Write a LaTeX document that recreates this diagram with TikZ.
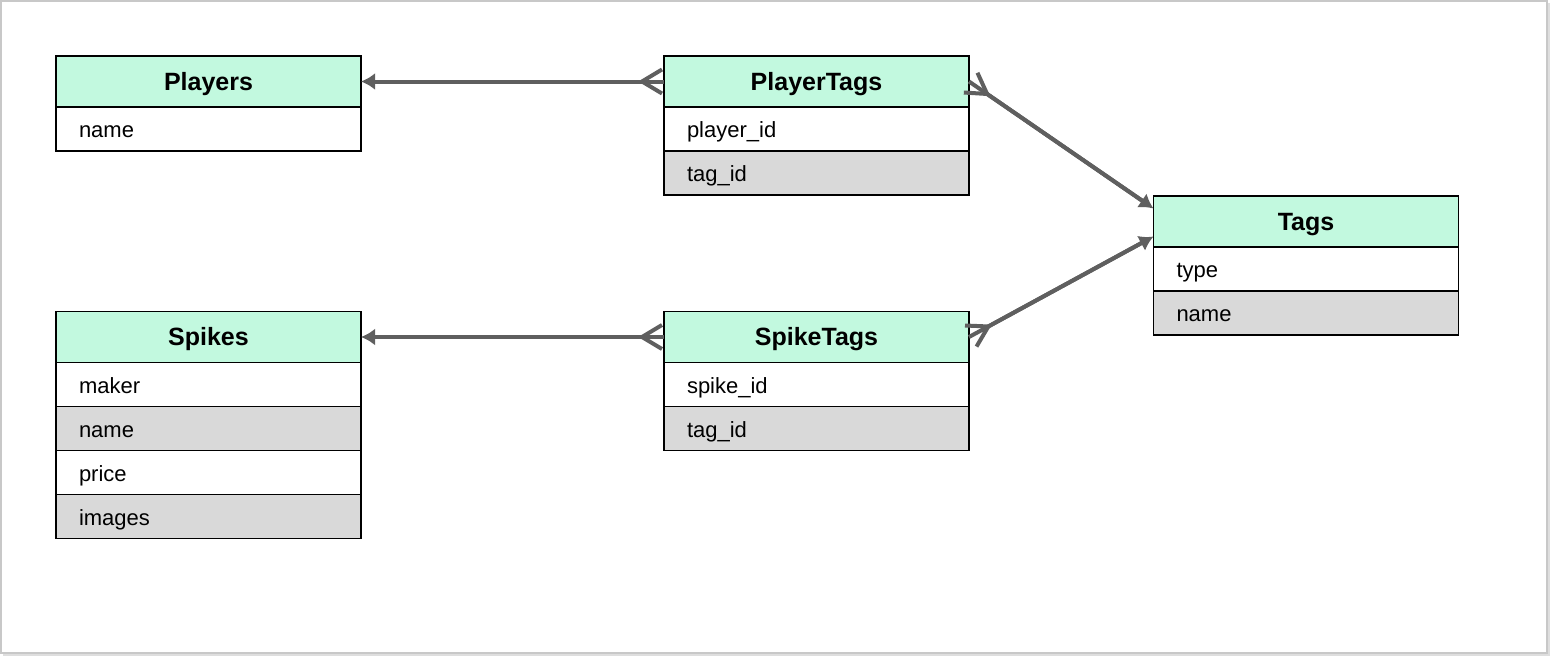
\documentclass[tikz,border=0pt]{standalone}
\usepackage{fontspec}
\setmainfont{Liberation Sans}
\usepackage{xcolor}
\usetikzlibrary{arrows.meta,positioning,calc}
\definecolor{menta}{RGB}{194,249,223}
\definecolor{grigio}{RGB}{217,217,217}
\definecolor{linea}{RGB}{95,95,95}
\definecolor{cornice}{RGB}{200,200,200}

\begin{document}
\begin{tikzpicture}[x=1pt,y=-1pt,
  header/.style={draw=black,line width=1.2pt,fill=menta,outer sep=0pt,
    inner xsep=23pt,inner ysep=0pt,text width=259pt,minimum height=51pt,
    align=center,text height=22pt,text depth=5pt,
    font=\fontsize{25}{30}\selectfont\bfseries},
  field/.style={header,fill=white,minimum height=44pt,align=left,
    text height=22pt,text depth=5pt,font=\fontsize{22}{26}\selectfont},
  fieldg/.style={field,fill=grigio},
  rel/.style={draw=linea,line width=4pt,
    {Latex[length=14pt,width=17pt]}-{Straight Barb[reversed,length=20pt,width=24pt]},
    postaction={draw=linea,line width=4pt,arrows=-,shorten <=10pt}}
]
%cornice
\useasboundingbox (0,0) rectangle (1550,656);
\draw[cornice,line width=2pt] (1,1) rectangle (1547,653);
\draw[cornice!60,line width=2pt] (3,655) -- (1549,655) -- (1549,3);

%tabelle
\node[header] at (208.5,81.5) (players) {Players};
\node[field,below=0pt of players] (pname) {name};

\node[header] at (816.5,81.5) (ptags) {PlayerTags};
\node[field,below=0pt of ptags] (pplayer) {player\_id};
\node[fieldg,below=0pt of pplayer] (ptag) {tag\_id};

\node[header] at (1306,221.5) (tags) {Tags};
\node[field,below=0pt of tags] (ttype) {type};
\node[fieldg,below=0pt of ttype] (tname) {name};

\node[header] at (208.5,337) (spikes) {Spikes};
\node[field,below=0pt of spikes] (smaker) {maker};
\node[fieldg,below=0pt of smaker] (sname) {name};
\node[field,below=0pt of sname] (sprice) {price};
\node[fieldg,below=0pt of sprice] (simages) {images};

\node[header] at (816.5,337) (stags) {SpikeTags};
\node[field,below=0pt of stags] (sspike) {spike\_id};
\node[fieldg,below=0pt of sspike] (stag) {tag\_id};

%relazioni
\draw[rel] (players.east) -- (ptags.west);
\draw[rel] (spikes.east) -- (stags.west);
\draw[rel] ([yshift=13pt]tags.west) -- (ptags.east);
\draw[rel] ([yshift=-15pt]tags.west) -- (stags.east);
\end{tikzpicture}
\end{document}
